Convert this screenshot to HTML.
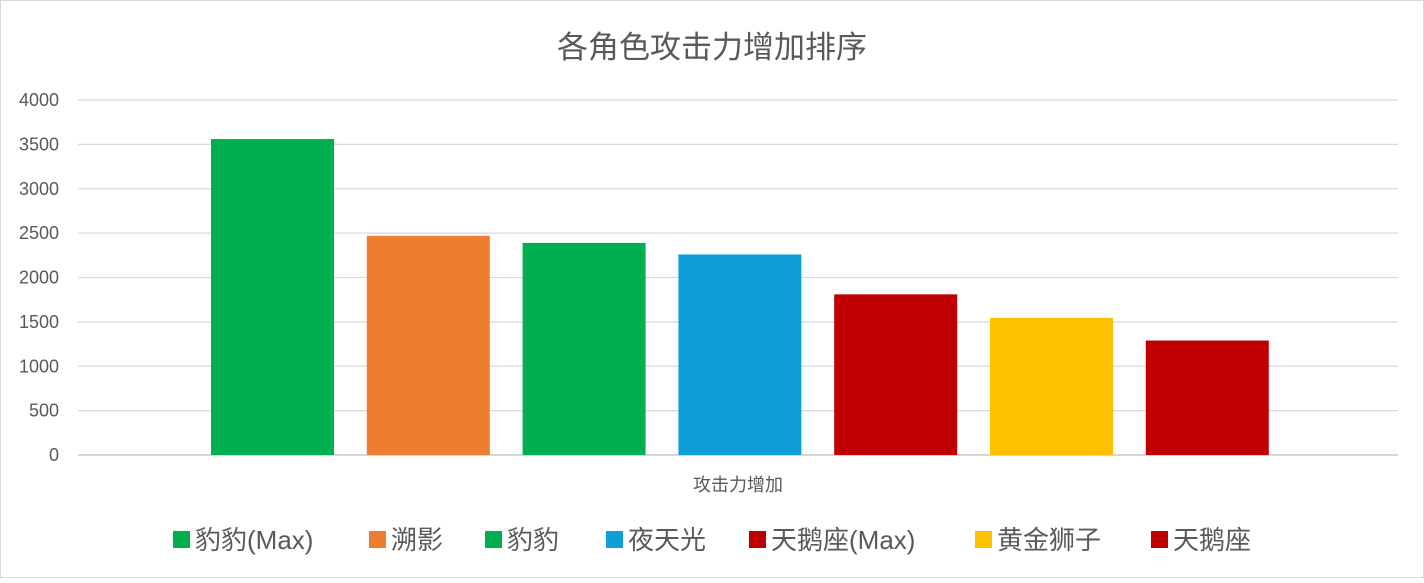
<!DOCTYPE html>
<html><head><meta charset="utf-8"><style>
body{margin:0;background:#fff;}
svg text{font-family:"Liberation Sans","Noto Sans CJK SC",sans-serif;}
</style></head><body>
<svg id="chart" width="1424" height="578" xmlns="http://www.w3.org/2000/svg">
<rect x="0.5" y="0.5" width="1423" height="577" fill="#fff" stroke="#d9d9d9"/>
<text x="712" y="58" text-anchor="middle" font-size="31" fill="#595959">各角色攻击力增加排序</text>
<g id="grid"></g><g id="bars"></g><g id="legend"></g>
<text x="738" y="491" text-anchor="middle" font-size="18" fill="#595959">攻击力增加</text>
</svg>
<script>
const seriesNames=["豹豹(Max)","溯影","豹豹","夜天光","天鹅座(Max)","黄金狮子","天鹅座"];
const seriesValues=[3560,2470,2390,2260,1810,1545,1290];
const seriesColors=["#00b050","#ed7d31","#00b050","#109ed8","#c00000","#ffc000","#c00000"];
const yTicks=[0,500,1000,1500,2000,2500,3000,3500,4000];
const NS="http://www.w3.org/2000/svg";
const x0=78,x1=1398,yBase=455,yTop=100,yMax=4000;
const y=v=>yBase-(v/yMax)*(yBase-yTop);
function mk(tag,attrs,parent){const e=document.createElementNS(NS,tag);for(const k in attrs)e.setAttribute(k,attrs[k]);parent.appendChild(e);return e;}
const grid=document.getElementById('grid');
yTicks.forEach(t=>{
  const l=mk('line',{x1:x0,x2:x1,y1:y(t),y2:y(t),stroke:t===0?'#bfbfbf':'#d9d9d9','stroke-width':1.3},grid);
  
  
  const tx=mk('text',{x:59,y:y(t)+6,'text-anchor':'end','font-size':18,fill:'#595959'},grid);
  tx.textContent=t;
  
  
});
const bars=document.getElementById('bars');
const step=155.8,bw=123,start=211;
seriesValues.forEach((v,i)=>{
  const r=mk('rect',{x:start+i*step,y:y(v),width:bw,height:yBase-y(v),fill:seriesColors[i]},bars);
  
  
});
const lg=document.getElementById('legend');
const lx=[173,369,485,606,749,975,1151];
seriesNames.forEach((n,i)=>{
  const r=mk('rect',{x:lx[i],y:531,width:17,height:17,fill:seriesColors[i]},lg);
  
  
  const t=mk('text',{x:lx[i]+22,y:549,'font-size':26,fill:'#595959'},lg);
  t.textContent=n;
  
  
});
</script>
</body></html>
